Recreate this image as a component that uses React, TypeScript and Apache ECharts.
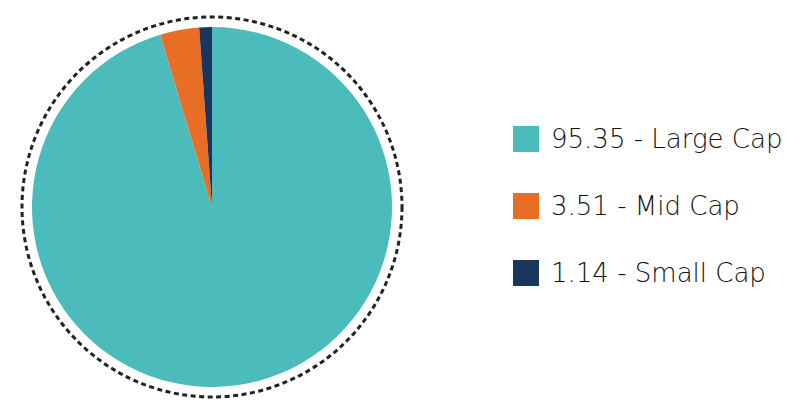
import { useEffect, useRef } from "react";
import * as echarts from "echarts";

const CATEGORIES = ["Large Cap", "Mid Cap", "Small Cap"];
const VALUES = [95.35, 3.51, 1.14];
const COLORS = ["#4bbcbb", "#e86e25", "#18365e"];

export default function App() {
  const ref = useRef<HTMLDivElement | null>(null);

  useEffect(() => {
    document.body.style.margin = "0";
    if (!ref.current) return;
    const chart = echarts.init(ref.current, undefined, { renderer: "svg" });
    const valueOf: Record<string, number> = {};
    CATEGORIES.forEach((c, i) => (valueOf[c] = VALUES[i]));

    chart.setOption({
      animation: false,
      color: COLORS,
      legend: {
        orient: "vertical",
        left: 508,
        top: 121,
        itemWidth: 26,
        itemHeight: 26,
        itemGap: 41,
        icon: "rect",
        data: CATEGORIES,
        formatter: (name: string) => `${valueOf[name].toFixed(2)} - ${name}`,
        textStyle: {
          fontFamily: "DejaVu Sans",
          fontWeight: 200,
          fontSize: 26,
          color: "#111",
          padding: [0, 0, 0, 7],
        },
      },
      graphic: [
        {
          type: "circle",
          shape: { cx: 212, cy: 207, r: 190 },
          style: { fill: "none", stroke: "#222", lineWidth: 3, lineDash: [5, 3.5] },
          silent: true,
        },
      ],
      series: [
        {
          type: "pie",
          center: [212, 207],
          radius: [0, 180],
          startAngle: 90,
          clockwise: true,
          label: { show: false },
          labelLine: { show: false },
          emphasis: { disabled: true },
          itemStyle: { borderWidth: 0 },
          data: CATEGORIES.map((name, i) => ({ name, value: VALUES[i] })),
        },
      ],
    });
    return () => chart.dispose();
  }, []);

  return <div ref={ref} style={{ width: 794, height: 412 }} />;
}
